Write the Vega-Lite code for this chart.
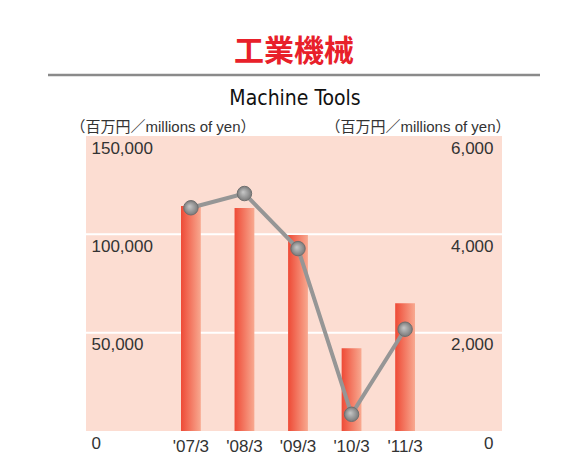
{
  "$schema": "https://vega.github.io/schema/vega-lite/v6.json",
  "padding": {"top": 36, "left": 46, "right": 32, "bottom": 0},
  "background": "white",
  "config": {
    "font": "Liberation Sans",
    "view": {"stroke": null}
  },
  "datasets": {
    "machine": [
      {"year": "'07/3", "sales": 114400, "profit": 4540},
      {"year": "'08/3", "sales": 113400, "profit": 4830},
      {"year": "'09/3", "sales": 99600, "profit": 3710},
      {"year": "'10/3", "sales": 42100, "profit": 340},
      {"year": "'11/3", "sales": 65000, "profit": 2070}
    ],
    "grid": [{"g": 50000}, {"g": 100000}],
    "header": [{"k": 0.5}]
  },
  "vconcat": [
    {
      "width": 492,
      "height": 2,
      "view": {"stroke": null, "fill": null},
      "title": {
        "text": "工業機械",
        "font": "Noto Sans CJK JP",
        "fontSize": 30,
        "fontWeight": "bold",
        "color": "#E8202A",
        "anchor": "middle",
        "frame": "group",
        "baseline": "bottom",
        "offset": -23
      },
      "data": {"name": "header"},
      "mark": {"type": "rule", "color": "#8a8a8a", "strokeWidth": 2.5},
      "encoding": {
        "y": {"field": "k", "type": "quantitative", "scale": {"domain": [0, 1]}, "axis": null}
      }
    },
    {
      "width": 416,
      "height": 295,
      "view": {"stroke": null, "fill": "#FCDDD2"},
      "title": {
        "text": "Machine Tools",
        "font": "DejaVu Sans Condensed",
        "fontSize": 21,
        "fontWeight": "normal",
        "color": "#111111",
        "anchor": "middle",
        "frame": "group",
        "baseline": "bottom",
        "dx": 1,
        "offset": -11
      },
      "layer": [
        {
          "data": {"name": "grid"},
          "mark": {"type": "rule", "color": "white", "strokeWidth": 2},
          "encoding": {
            "y": {"field": "g", "type": "quantitative", "scale": {"domain": [0, 150000], "nice": false}, "axis": null}
          }
        },
        {
          "data": {"name": "machine"},
          "mark": {
            "type": "bar",
            "color": {
              "gradient": "linear",
              "x1": 0, "x2": 1, "y1": 0, "y2": 0,
              "stops": [
                {"offset": 0, "color": "#EE4A36"},
                {"offset": 1, "color": "#F8A990"}
              ]
            }
          },
          "encoding": {
            "x": {
              "field": "year",
              "type": "nominal",
              "sort": null,
              "scale": {"range": [95, 329], "paddingInner": 0.63, "paddingOuter": 0},
              "axis": {
                "title": null,
                "domain": false,
                "ticks": false,
                "grid": false,
                "labelAngle": 0,
                "labelFontSize": 17,
                "labelColor": "#333333",
                "labelBaseline": "top",
                "labelPadding": 7
              }
            },
            "y": {
              "field": "sales",
              "type": "quantitative",
              "scale": {"domain": [0, 150000], "nice": false},
              "axis": {
                "orient": "left",
                "values": [0, 50000, 100000, 150000],
                "format": ",.0f",
                "domain": false,
                "ticks": false,
                "grid": false,
                "labelAlign": "left",
                "labelBaseline": "top",
                "labelPadding": -5,
                "labelOffset": 4,
                "labelFontSize": 17,
                "labelColor": "#333333",
                "title": "（百万円／millions of yen）",
                "titleFont": "Liberation Sans, Noto Sans CJK JP",
                "titleFontSize": 15,
                "titleFontWeight": "normal",
                "titleColor": "#333333",
                "titleAngle": 0,
                "titleAlign": "left",
                "titleBaseline": "middle",
                "titleX": -16,
                "titleY": -10
              }
            }
          }
        },
        {
          "data": {"name": "machine"},
          "mark": {"type": "line", "color": "#969696", "strokeWidth": 4},
          "encoding": {
            "x": {"field": "year", "type": "nominal", "sort": null},
            "y": {
              "field": "profit",
              "type": "quantitative",
              "scale": {"domain": [0, 6000], "nice": false},
              "axis": {
                "orient": "right",
                "values": [0, 2000, 4000, 6000],
                "format": ",.0f",
                "domain": false,
                "ticks": false,
                "grid": false,
                "labelAlign": "right",
                "labelBaseline": "top",
                "labelPadding": -9,
                "labelOffset": 4,
                "labelFontSize": 17,
                "labelColor": "#333333",
                "title": "（百万円／millions of yen）",
                "titleFont": "Liberation Sans, Noto Sans CJK JP",
                "titleFontSize": 15,
                "titleFontWeight": "normal",
                "titleColor": "#333333",
                "titleAngle": 0,
                "titleAlign": "right",
                "titleBaseline": "middle",
                "titleX": 8,
                "titleY": -10
              }
            }
          }
        },
        {
          "data": {"name": "machine"},
          "mark": {
            "type": "point",
            "filled": true,
            "size": 210,
            "opacity": 1,
            "stroke": "#6f6f6f",
            "strokeWidth": 1,
            "fill": {
              "gradient": "radial",
              "x1": 0.4, "y1": 0.4, "r1": 0,
              "x2": 0.5, "y2": 0.5, "r2": 0.5,
              "stops": [
                {"offset": 0, "color": "#c8c8c8"},
                {"offset": 1, "color": "#7a7a7a"}
              ]
            }
          },
          "encoding": {
            "x": {"field": "year", "type": "nominal", "sort": null},
            "y": {"field": "profit", "type": "quantitative", "scale": {"domain": [0, 6000], "nice": false}, "axis": null}
          }
        }
      ],
      "resolve": {"scale": {"y": "independent"}}
    }
  ],
  "spacing": 60,
  "bounds": "flush",
  "center": true
}
